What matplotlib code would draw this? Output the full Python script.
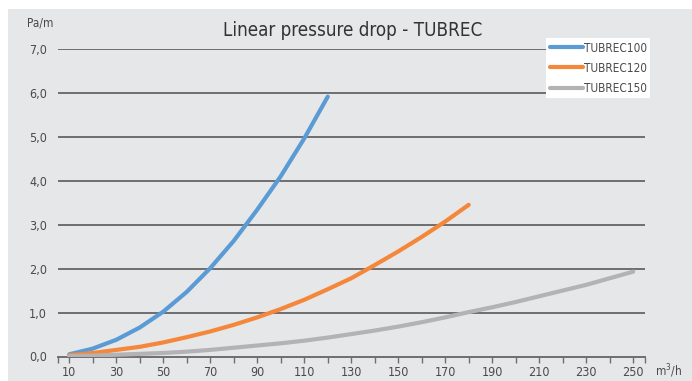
import matplotlib.pyplot as plt
from matplotlib.patches import Rectangle
from matplotlib.lines import Line2D

plt.rcParams['font.family'] = ['DejaVu Sans']
plt.rcParams['font.stretch'] = 'condensed'

# airflow (m3/h) and linear pressure drop (Pa/m)
flow_100 = [10, 20, 30, 40, 50, 60, 70, 80, 90, 100, 110, 120]
drop_100 = [0.05, 0.18, 0.38, 0.66, 1.02, 1.47, 2.01, 2.63, 3.34, 4.10, 4.96, 5.91]

flow_120 = [10, 20, 30, 40, 50, 60, 70, 80, 90, 100, 110, 120, 130, 140, 150, 160, 170, 180]
drop_120 = [0.03, 0.08, 0.15, 0.22, 0.32, 0.44, 0.57, 0.72, 0.89, 1.08, 1.29, 1.53,
            1.78, 2.08, 2.39, 2.72, 3.07, 3.45]

flow_150 = [10, 20, 30, 40, 50, 60, 70, 80, 90, 100, 110, 120, 130, 140, 150, 160,
            170, 180, 190, 200, 210, 220, 230, 240, 250]
drop_150 = [0.01, 0.02, 0.04, 0.06, 0.08, 0.11, 0.15, 0.20, 0.25, 0.30, 0.36, 0.43,
            0.51, 0.59, 0.68, 0.78, 0.89, 1.01, 1.12, 1.24, 1.37, 1.50, 1.63, 1.78, 1.93]

series_names = ['TUBREC100', 'TUBREC120', 'TUBREC150']
colors = ['#5B9BD5', '#F5873A', '#B3B3B5']

x_labels = list(range(10, 251, 20))
y_ticks = [0, 1, 2, 3, 4, 5, 6, 7]

fig = plt.figure(figsize=(6.92, 3.81), dpi=100)
fig.patch.set_facecolor('white')
fig.patches.append(Rectangle((8 / 692, 0), 1, 1 - 9 / 381, transform=fig.transFigure,
                             facecolor='#E6E7E9', edgecolor='none', zorder=-10))

W, H = 692, 381
left, right, top, bottom = 58, 645, 48.7, 356.5
ax = fig.add_axes([left / W, 1 - bottom / H, (right - left) / W, (bottom - top) / H])
ax.set_facecolor('none')

ax.set_xlim(5.2, 255)
ax.set_ylim(0, 7)

for yv in y_ticks[1:]:
    ax.axhline(yv, color='#6E6E70', lw=1.4, zorder=1)

for flow, drop, c, name in zip([flow_100, flow_120, flow_150],
                               [drop_100, drop_120, drop_150], colors, series_names):
    ax.plot(flow, drop, color=c, lw=3.0, solid_capstyle='round', solid_joinstyle='round',
            zorder=3, label=name)

for s in ['top', 'right', 'left']:
    ax.spines[s].set_visible(False)
ax.spines['bottom'].set_color('#6E6E70')
ax.spines['bottom'].set_linewidth(1.4)

ax.set_xticks(x_labels)
ax.set_xticklabels([str(v) for v in x_labels])
ax.set_xticks(list(range(20, 251, 20)) + [5.2, 255], minor=True)
ax.tick_params(axis='x', which='both', direction='out', length=4, width=1,
               color='#6E6E70', labelsize=9, labelcolor='#4A4A4A', pad=3)
ax.set_yticks(y_ticks)
ax.set_yticklabels([f'{v},0' for v in y_ticks])
ax.tick_params(axis='y', length=0, labelsize=9, labelcolor='#4A4A4A', pad=8)

fig.text(353 / W, 1 - 30 / H, 'Linear pressure drop - TUBREC', ha='center', va='center',
         fontsize=13.5, color='#333333')
fig.text(40 / W, 1 - 23 / H, 'Pa/m', ha='center', va='center', fontsize=8.5, color='#4A4A4A')
fig.text(655 / W, 1 - 371 / H, 'm$^3$/h', ha='left', va='center', fontsize=8.5, color='#4A4A4A')

handles = [Line2D([], [], color=c, lw=3.0, solid_capstyle='round') for c in colors]
leg = fig.legend(handles, series_names, loc='upper left',
                 bbox_to_anchor=(546 / W, 1 - 38 / H), frameon=True, fancybox=False,
                 fontsize=8.5, handlelength=2.8, handletextpad=0.1, labelspacing=0.6,
                 borderpad=0.3, borderaxespad=0)
leg.get_frame().set_facecolor('white')
leg.get_frame().set_edgecolor('none')
leg.get_frame().set_alpha(1)
for t in leg.get_texts():
    t.set_color('#4A4A4A')

fig.savefig('out.png', dpi=100)
